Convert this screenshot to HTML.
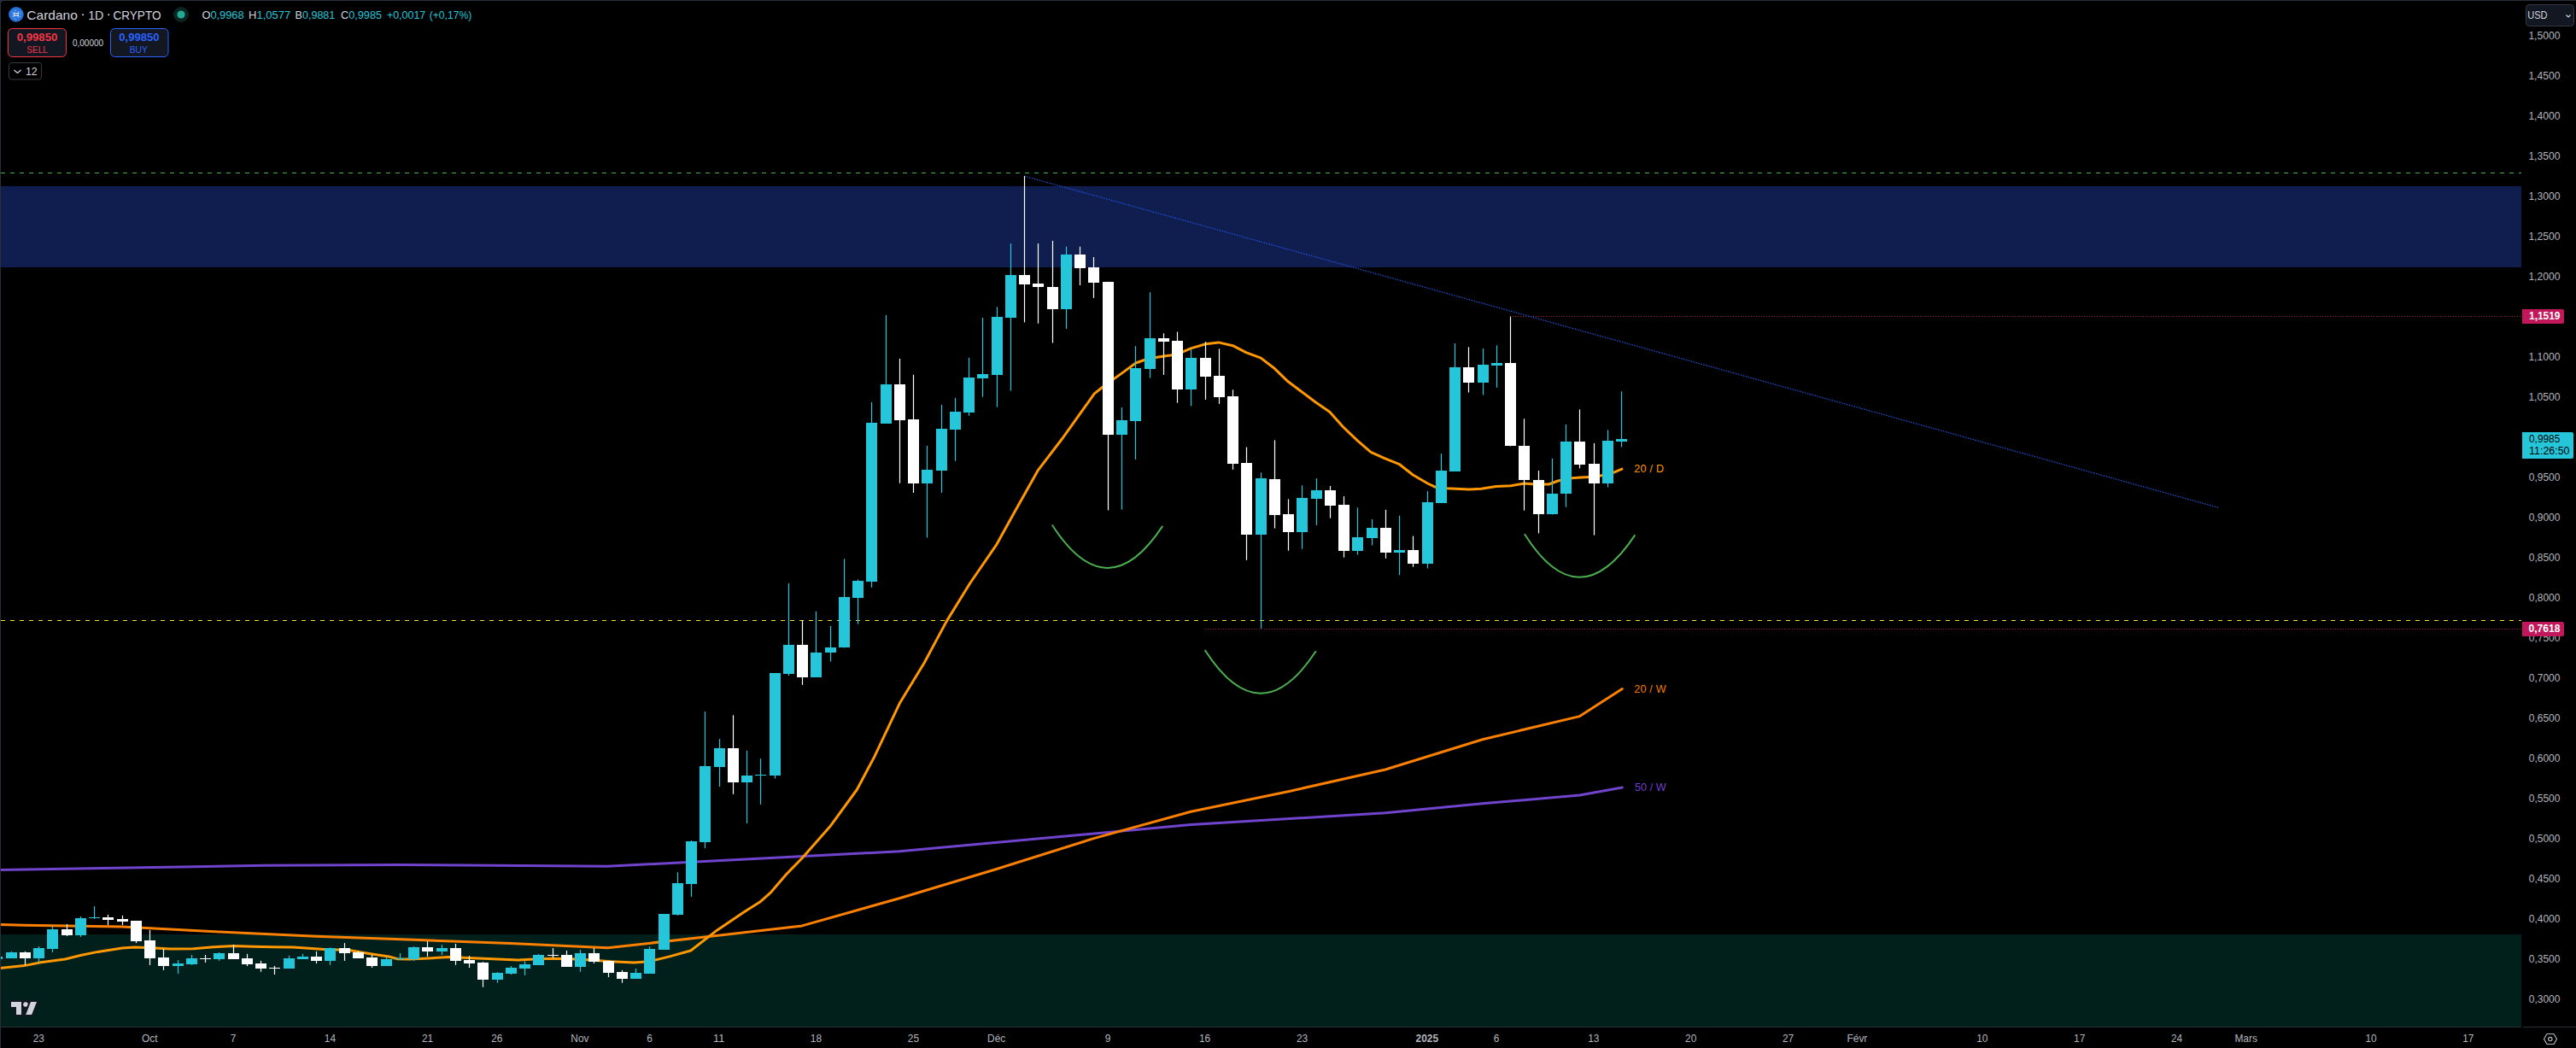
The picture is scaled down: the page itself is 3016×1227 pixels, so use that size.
<!DOCTYPE html>
<html><head><meta charset="utf-8"><title>Cardano 1D</title><style>
html,body{margin:0;padding:0;background:#000;width:3016px;height:1227px;overflow:hidden;}
svg{display:block;font-family:"Liberation Sans",sans-serif;}
</style></head><body>
<svg width="3016" height="1227" viewBox="0 0 3016 1227">
<rect x="0" y="0" width="3016" height="1227" fill="#2a2e39"/>
<rect x="1" y="1" width="3015" height="1226" rx="4" fill="#000"/>
<rect x="1" y="6" width="3015" height="1221" fill="#000"/>
<rect x="6" y="1" width="3010" height="1226" fill="#000"/>
<rect x="1" y="218" width="2951" height="95" fill="#0f1e4f"/>
<rect x="1" y="1094" width="2951" height="108" fill="#02201b"/>
<rect x="0" y="1202" width="2952" height="1" fill="#2a2e39"/>
<rect x="2954" y="1202" width="62" height="1" fill="#2a2e39"/>
<line x1="1" y1="202.5" x2="2952" y2="202.5" stroke="#4caf50" stroke-width="1" stroke-dasharray="5 6"/>
<line x1="1" y1="726.5" x2="2952" y2="726.5" stroke="#f5e12d" stroke-width="1" stroke-dasharray="5 6"/>
<line x1="1768" y1="370.5" x2="2952" y2="370.5" stroke="#ad1457" stroke-width="1" stroke-dasharray="1 2"/>
<line x1="1411" y1="736.5" x2="2952" y2="736.5" stroke="#ad1457" stroke-width="1" stroke-dasharray="1 2"/>
<line x1="1199.4" y1="206.2" x2="2597" y2="594.2" stroke="#2356e6" stroke-width="1.2" stroke-dasharray="1.5 1.5"/>
<polyline points="0.0,1018.6 310.6,1013.3 465.8,1012.4 711.6,1014.2 1053.0,996.8 1394.4,965.5 1622.0,951.7 1735.8,940.7 1849.6,931.1 1899.3,922.0" fill="none" stroke="#7044cc" stroke-width="3" stroke-linejoin="round" stroke-linecap="round"/>
<polyline points="0.0,1082.6 28.8,1083.2 142.6,1085.0 256.4,1091.1 370.2,1096.3 484.0,1100.3 597.8,1104.6 711.6,1109.8 825.4,1097.0 939.2,1083.9 1053.0,1051.7 1166.8,1017.5 1280.6,981.6 1394.4,950.3 1508.2,926.7 1622.0,901.0 1735.8,865.7 1849.6,838.6 1899.3,806.5" fill="none" stroke="#fb8000" stroke-width="3" stroke-linejoin="round" stroke-linecap="round"/>
<polyline points="0.0,1133.5 28.6,1130.6 47.7,1126.8 76.3,1123.0 95.4,1118.2 114.5,1114.4 143.1,1110.1 157.4,1109.1 171.8,1109.4 200.0,1111.0 226.6,1110.7 249.9,1108.7 273.2,1107.6 296.5,1108.3 319.8,1108.7 343.0,1109.1 380.0,1111.4 408.8,1112.6 432.1,1116.5 455.4,1120.0 465.5,1122.7 478.7,1123.1 502.0,1121.9 525.3,1120.4 548.6,1121.5 583.3,1123.1 606.6,1123.9 629.9,1122.7 645.4,1122.3 668.7,1122.7 692.0,1123.9 715.3,1125.8 742.5,1127.0 760.0,1125.8 783.9,1119.9 808.7,1113.0 839.8,1088.9 870.8,1067.9 889.4,1056.3 901.9,1045.4 920.5,1023.7 939.1,1004.7 971.7,967.8 1003.3,924.5 1023.9,885.7 1053.1,823.8 1082.3,775.7 1108.1,727.6 1135.6,683.0 1167.1,637.1 1187.0,601.1 1215.5,550.3 1244.1,513.0 1281.3,460.9 1293.7,451.0 1313.6,436.9 1329.8,425.0 1339.7,421.5 1354.6,418.3 1372.0,415.8 1385.6,411.6 1394.3,407.9 1411.7,402.7 1426.6,400.9 1443.4,404.7 1458.8,412.6 1476.2,419.1 1491.4,430.7 1508.1,446.8 1524.1,458.8 1540.1,470.8 1556.8,482.2 1572.2,499.5 1589.6,516.2 1605.0,529.3 1621.1,536.7 1638.6,543.7 1654.3,556.0 1671.5,566.0 1680.7,570.3 1694.4,571.7 1720.1,573.1 1734.4,572.3 1751.6,569.4 1768.8,568.8 1784.5,566.0 1797.4,567.0 1813.4,567.0 1824.1,563.0 1840.1,559.8 1850.8,559.0 1866.8,558.2 1877.5,556.3 1888.2,553.6 1898.9,549.1" fill="none" stroke="#ff9800" stroke-width="3" stroke-linejoin="round" stroke-linecap="round"/>
<rect x="-4.1" y="1120.0" width="1.2" height="3.0" fill="#26c6da"/>
<rect x="-10" y="1120" width="13" height="3" fill="#26c6da"/>
<rect x="12.9" y="1113.9" width="1.2" height="8.1" fill="#26c6da"/>
<rect x="7" y="1115" width="13" height="7" fill="#26c6da"/>
<rect x="28.9" y="1113.9" width="1.2" height="16.2" fill="#ffffff"/>
<rect x="23" y="1115" width="13" height="7" fill="#ffffff"/>
<rect x="44.9" y="1108.0" width="1.2" height="19.1" fill="#26c6da"/>
<rect x="39" y="1110" width="13" height="12" fill="#26c6da"/>
<rect x="60.9" y="1084.0" width="1.2" height="31.0" fill="#26c6da"/>
<rect x="55" y="1088" width="13" height="23" fill="#26c6da"/>
<rect x="77.9" y="1082.0" width="1.2" height="14.0" fill="#ffffff"/>
<rect x="72" y="1088" width="13" height="7" fill="#ffffff"/>
<rect x="93.9" y="1072.9" width="1.2" height="24.0" fill="#26c6da"/>
<rect x="88" y="1075" width="13" height="20" fill="#26c6da"/>
<rect x="109.9" y="1060.9" width="1.2" height="15.0" fill="#26c6da"/>
<rect x="104" y="1074" width="13" height="1" fill="#26c6da"/>
<rect x="125.9" y="1070.9" width="1.2" height="12.2" fill="#ffffff"/>
<rect x="120" y="1074" width="13" height="3" fill="#ffffff"/>
<rect x="142.9" y="1071.9" width="1.2" height="11.2" fill="#ffffff"/>
<rect x="137" y="1076" width="13" height="3" fill="#ffffff"/>
<rect x="158.9" y="1078.0" width="1.2" height="26.1" fill="#ffffff"/>
<rect x="153" y="1078" width="13" height="24" fill="#ffffff"/>
<rect x="174.9" y="1088.9" width="1.2" height="41.1" fill="#ffffff"/>
<rect x="169" y="1101" width="13" height="21" fill="#ffffff"/>
<rect x="190.9" y="1111.0" width="1.2" height="24.9" fill="#ffffff"/>
<rect x="185" y="1121" width="13" height="10" fill="#ffffff"/>
<rect x="207.9" y="1124.1" width="1.2" height="15.9" fill="#26c6da"/>
<rect x="202" y="1128" width="13" height="3" fill="#26c6da"/>
<rect x="223.9" y="1118.0" width="1.2" height="11.8" fill="#26c6da"/>
<rect x="218" y="1122" width="13" height="7" fill="#26c6da"/>
<rect x="239.9" y="1118.0" width="1.2" height="9.0" fill="#ffffff"/>
<rect x="234" y="1122" width="13" height="1" fill="#ffffff"/>
<rect x="255.9" y="1115.0" width="1.2" height="9.9" fill="#26c6da"/>
<rect x="250" y="1116" width="13" height="7" fill="#26c6da"/>
<rect x="272.9" y="1106.0" width="1.2" height="16.9" fill="#ffffff"/>
<rect x="267" y="1116" width="13" height="7" fill="#ffffff"/>
<rect x="288.9" y="1116.9" width="1.2" height="14.2" fill="#ffffff"/>
<rect x="283" y="1122" width="13" height="7" fill="#ffffff"/>
<rect x="304.9" y="1124.9" width="1.2" height="12.9" fill="#ffffff"/>
<rect x="299" y="1128" width="13" height="6" fill="#ffffff"/>
<rect x="320.9" y="1130.9" width="1.2" height="10.1" fill="#ffffff"/>
<rect x="315" y="1133" width="13" height="1" fill="#ffffff"/>
<rect x="337.9" y="1118.8" width="1.2" height="15.0" fill="#26c6da"/>
<rect x="332" y="1122" width="13" height="12" fill="#26c6da"/>
<rect x="353.9" y="1116.9" width="1.2" height="6.0" fill="#26c6da"/>
<rect x="348" y="1120" width="13" height="3" fill="#26c6da"/>
<rect x="369.9" y="1113.9" width="1.2" height="14.2" fill="#ffffff"/>
<rect x="364" y="1120" width="13" height="5" fill="#ffffff"/>
<rect x="385.9" y="1109.3" width="1.2" height="20.5" fill="#26c6da"/>
<rect x="380" y="1110" width="13" height="15" fill="#26c6da"/>
<rect x="402.9" y="1104.1" width="1.2" height="20.8" fill="#ffffff"/>
<rect x="397" y="1110" width="13" height="6" fill="#ffffff"/>
<rect x="418.9" y="1113.2" width="1.2" height="8.7" fill="#ffffff"/>
<rect x="413" y="1115" width="13" height="7" fill="#ffffff"/>
<rect x="434.9" y="1118.0" width="1.2" height="15.0" fill="#ffffff"/>
<rect x="429" y="1121" width="13" height="10" fill="#ffffff"/>
<rect x="451.9" y="1120.2" width="1.2" height="10.7" fill="#26c6da"/>
<rect x="446" y="1123" width="13" height="8" fill="#26c6da"/>
<rect x="467.9" y="1116.1" width="1.2" height="7.8" fill="#26c6da"/>
<rect x="462" y="1122" width="13" height="1" fill="#26c6da"/>
<rect x="483.9" y="1108.1" width="1.2" height="16.8" fill="#26c6da"/>
<rect x="478" y="1109" width="13" height="14" fill="#26c6da"/>
<rect x="499.9" y="1102.1" width="1.2" height="17.9" fill="#ffffff"/>
<rect x="494" y="1109" width="13" height="5" fill="#ffffff"/>
<rect x="516.9" y="1106.2" width="1.2" height="11.8" fill="#26c6da"/>
<rect x="511" y="1110" width="13" height="4" fill="#26c6da"/>
<rect x="532.9" y="1105.0" width="1.2" height="24.8" fill="#ffffff"/>
<rect x="527" y="1110" width="13" height="15" fill="#ffffff"/>
<rect x="548.9" y="1119.2" width="1.2" height="13.8" fill="#ffffff"/>
<rect x="543" y="1124" width="13" height="4" fill="#ffffff"/>
<rect x="564.9" y="1126.2" width="1.2" height="29.5" fill="#ffffff"/>
<rect x="559" y="1127" width="13" height="20" fill="#ffffff"/>
<rect x="581.9" y="1138.1" width="1.2" height="12.7" fill="#26c6da"/>
<rect x="576" y="1139" width="13" height="8" fill="#26c6da"/>
<rect x="597.9" y="1131.1" width="1.2" height="9.9" fill="#26c6da"/>
<rect x="592" y="1133" width="13" height="7" fill="#26c6da"/>
<rect x="613.9" y="1125.2" width="1.2" height="16.7" fill="#26c6da"/>
<rect x="608" y="1129" width="13" height="5" fill="#26c6da"/>
<rect x="629.9" y="1117.1" width="1.2" height="12.6" fill="#26c6da"/>
<rect x="624" y="1118" width="13" height="12" fill="#26c6da"/>
<rect x="646.9" y="1110.1" width="1.2" height="11.8" fill="#ffffff"/>
<rect x="641" y="1118" width="13" height="1" fill="#ffffff"/>
<rect x="662.9" y="1113.0" width="1.2" height="18.9" fill="#ffffff"/>
<rect x="657" y="1118" width="13" height="14" fill="#ffffff"/>
<rect x="678.9" y="1112.0" width="1.2" height="25.8" fill="#26c6da"/>
<rect x="673" y="1116" width="13" height="16" fill="#26c6da"/>
<rect x="694.9" y="1110.1" width="1.2" height="17.9" fill="#ffffff"/>
<rect x="689" y="1116" width="13" height="10" fill="#ffffff"/>
<rect x="711.9" y="1125.0" width="1.2" height="19.1" fill="#ffffff"/>
<rect x="706" y="1125" width="13" height="14" fill="#ffffff"/>
<rect x="727.9" y="1135.9" width="1.2" height="14.9" fill="#ffffff"/>
<rect x="722" y="1138" width="13" height="8" fill="#ffffff"/>
<rect x="743.9" y="1134.0" width="1.2" height="12.0" fill="#26c6da"/>
<rect x="738" y="1139" width="13" height="7" fill="#26c6da"/>
<rect x="759.9" y="1108.1" width="1.2" height="31.8" fill="#26c6da"/>
<rect x="754" y="1111" width="13" height="29" fill="#26c6da"/>
<rect x="776.9" y="1070.2" width="1.2" height="41.5" fill="#26c6da"/>
<rect x="771" y="1070" width="13" height="42" fill="#26c6da"/>
<rect x="792.9" y="1021.2" width="1.2" height="50.6" fill="#26c6da"/>
<rect x="787" y="1034" width="13" height="37" fill="#26c6da"/>
<rect x="808.9" y="984.0" width="1.2" height="65.9" fill="#26c6da"/>
<rect x="803" y="985" width="13" height="50" fill="#26c6da"/>
<rect x="824.9" y="833.1" width="1.2" height="160.0" fill="#26c6da"/>
<rect x="819" y="897" width="13" height="89" fill="#26c6da"/>
<rect x="841.9" y="865.1" width="1.2" height="55.9" fill="#26c6da"/>
<rect x="836" y="876" width="13" height="22" fill="#26c6da"/>
<rect x="857.9" y="837.3" width="1.2" height="92.5" fill="#ffffff"/>
<rect x="852" y="876" width="13" height="40" fill="#ffffff"/>
<rect x="873.9" y="878.8" width="1.2" height="85.2" fill="#26c6da"/>
<rect x="868" y="908" width="13" height="8" fill="#26c6da"/>
<rect x="889.9" y="888.2" width="1.2" height="53.6" fill="#26c6da"/>
<rect x="884" y="907" width="13" height="1" fill="#26c6da"/>
<rect x="906.9" y="788.2" width="1.2" height="123.3" fill="#26c6da"/>
<rect x="901" y="788" width="13" height="120" fill="#26c6da"/>
<rect x="922.9" y="683.0" width="1.2" height="108.0" fill="#26c6da"/>
<rect x="917" y="755" width="13" height="34" fill="#26c6da"/>
<rect x="938.9" y="726.4" width="1.2" height="75.5" fill="#ffffff"/>
<rect x="933" y="755" width="13" height="38" fill="#ffffff"/>
<rect x="954.9" y="715.8" width="1.2" height="77.0" fill="#26c6da"/>
<rect x="949" y="764" width="13" height="29" fill="#26c6da"/>
<rect x="971.9" y="733.0" width="1.2" height="41.6" fill="#26c6da"/>
<rect x="966" y="758" width="13" height="6" fill="#26c6da"/>
<rect x="987.9" y="654.3" width="1.2" height="104.2" fill="#26c6da"/>
<rect x="982" y="699" width="13" height="59" fill="#26c6da"/>
<rect x="1003.9" y="678.4" width="1.2" height="52.3" fill="#26c6da"/>
<rect x="998" y="680" width="13" height="20" fill="#26c6da"/>
<rect x="1019.9" y="471.0" width="1.2" height="216.8" fill="#26c6da"/>
<rect x="1014" y="495" width="13" height="186" fill="#26c6da"/>
<rect x="1036.9" y="369.0" width="1.2" height="126.8" fill="#26c6da"/>
<rect x="1031" y="450" width="13" height="46" fill="#26c6da"/>
<rect x="1052.9" y="419.9" width="1.2" height="145.9" fill="#ffffff"/>
<rect x="1047" y="450" width="13" height="42" fill="#ffffff"/>
<rect x="1068.9" y="438.8" width="1.2" height="138.2" fill="#ffffff"/>
<rect x="1063" y="491" width="13" height="75" fill="#ffffff"/>
<rect x="1084.9" y="521.9" width="1.2" height="107.6" fill="#26c6da"/>
<rect x="1079" y="550" width="13" height="16" fill="#26c6da"/>
<rect x="1101.9" y="474.0" width="1.2" height="103.0" fill="#26c6da"/>
<rect x="1096" y="502" width="13" height="49" fill="#26c6da"/>
<rect x="1117.9" y="466.0" width="1.2" height="73.7" fill="#26c6da"/>
<rect x="1112" y="482" width="13" height="21" fill="#26c6da"/>
<rect x="1133.9" y="418.9" width="1.2" height="67.8" fill="#26c6da"/>
<rect x="1128" y="442" width="13" height="41" fill="#26c6da"/>
<rect x="1149.9" y="372.0" width="1.2" height="92.7" fill="#26c6da"/>
<rect x="1144" y="438" width="13" height="5" fill="#26c6da"/>
<rect x="1166.9" y="359.3" width="1.2" height="117.3" fill="#26c6da"/>
<rect x="1161" y="371" width="13" height="68" fill="#26c6da"/>
<rect x="1182.9" y="285.1" width="1.2" height="172.5" fill="#26c6da"/>
<rect x="1177" y="322" width="13" height="50" fill="#26c6da"/>
<rect x="1198.9" y="206.2" width="1.2" height="171.2" fill="#ffffff"/>
<rect x="1193" y="322" width="13" height="11" fill="#ffffff"/>
<rect x="1214.9" y="285.1" width="1.2" height="93.6" fill="#ffffff"/>
<rect x="1209" y="332" width="13" height="4" fill="#ffffff"/>
<rect x="1231.9" y="281.9" width="1.2" height="119.6" fill="#ffffff"/>
<rect x="1226" y="336" width="13" height="26" fill="#ffffff"/>
<rect x="1247.9" y="288.8" width="1.2" height="96.1" fill="#26c6da"/>
<rect x="1242" y="298" width="13" height="64" fill="#26c6da"/>
<rect x="1263.9" y="288.8" width="1.2" height="45.2" fill="#ffffff"/>
<rect x="1258" y="298" width="13" height="16" fill="#ffffff"/>
<rect x="1279.9" y="301.0" width="1.2" height="47.9" fill="#ffffff"/>
<rect x="1274" y="313" width="13" height="18" fill="#ffffff"/>
<rect x="1296.9" y="329.8" width="1.2" height="267.6" fill="#ffffff"/>
<rect x="1291" y="330" width="13" height="179" fill="#ffffff"/>
<rect x="1312.9" y="477.1" width="1.2" height="119.6" fill="#26c6da"/>
<rect x="1307" y="492" width="13" height="17" fill="#26c6da"/>
<rect x="1328.9" y="405.2" width="1.2" height="132.7" fill="#26c6da"/>
<rect x="1323" y="431" width="13" height="62" fill="#26c6da"/>
<rect x="1345.9" y="342.2" width="1.2" height="100.4" fill="#26c6da"/>
<rect x="1340" y="396" width="13" height="36" fill="#26c6da"/>
<rect x="1361.9" y="390.3" width="1.2" height="48.6" fill="#ffffff"/>
<rect x="1356" y="396" width="13" height="4" fill="#ffffff"/>
<rect x="1377.9" y="388.5" width="1.2" height="83.2" fill="#ffffff"/>
<rect x="1372" y="399" width="13" height="57" fill="#ffffff"/>
<rect x="1393.9" y="408.4" width="1.2" height="67.0" fill="#26c6da"/>
<rect x="1388" y="419" width="13" height="37" fill="#26c6da"/>
<rect x="1410.9" y="400.2" width="1.2" height="67.7" fill="#ffffff"/>
<rect x="1405" y="419" width="13" height="22" fill="#ffffff"/>
<rect x="1426.9" y="408.4" width="1.2" height="64.5" fill="#ffffff"/>
<rect x="1421" y="440" width="13" height="25" fill="#ffffff"/>
<rect x="1442.9" y="456.3" width="1.2" height="93.5" fill="#ffffff"/>
<rect x="1437" y="464" width="13" height="79" fill="#ffffff"/>
<rect x="1458.9" y="523.6" width="1.2" height="132.2" fill="#ffffff"/>
<rect x="1453" y="542" width="13" height="84" fill="#ffffff"/>
<rect x="1475.9" y="553.3" width="1.2" height="182.4" fill="#26c6da"/>
<rect x="1470" y="560" width="13" height="66" fill="#26c6da"/>
<rect x="1491.9" y="515.4" width="1.2" height="103.2" fill="#ffffff"/>
<rect x="1486" y="561" width="13" height="42" fill="#ffffff"/>
<rect x="1507.9" y="584.4" width="1.2" height="60.3" fill="#ffffff"/>
<rect x="1502" y="602" width="13" height="21" fill="#ffffff"/>
<rect x="1523.9" y="568.2" width="1.2" height="74.5" fill="#26c6da"/>
<rect x="1518" y="583" width="13" height="40" fill="#26c6da"/>
<rect x="1540.9" y="560.0" width="1.2" height="54.9" fill="#26c6da"/>
<rect x="1535" y="574" width="13" height="10" fill="#26c6da"/>
<rect x="1556.9" y="569.0" width="1.2" height="37.7" fill="#ffffff"/>
<rect x="1551" y="574" width="13" height="18" fill="#ffffff"/>
<rect x="1572.9" y="581.1" width="1.2" height="71.5" fill="#ffffff"/>
<rect x="1567" y="591" width="13" height="54" fill="#ffffff"/>
<rect x="1588.9" y="594.3" width="1.2" height="55.3" fill="#26c6da"/>
<rect x="1583" y="629" width="13" height="16" fill="#26c6da"/>
<rect x="1605.9" y="607.9" width="1.2" height="30.6" fill="#26c6da"/>
<rect x="1600" y="618" width="13" height="12" fill="#26c6da"/>
<rect x="1621.9" y="596.8" width="1.2" height="57.0" fill="#ffffff"/>
<rect x="1616" y="618" width="13" height="29" fill="#ffffff"/>
<rect x="1637.9" y="603.7" width="1.2" height="69.6" fill="#26c6da"/>
<rect x="1632" y="644" width="13" height="3" fill="#26c6da"/>
<rect x="1653.9" y="627.5" width="1.2" height="36.3" fill="#ffffff"/>
<rect x="1648" y="644" width="13" height="16" fill="#ffffff"/>
<rect x="1670.9" y="575.1" width="1.2" height="90.4" fill="#26c6da"/>
<rect x="1665" y="588" width="13" height="72" fill="#26c6da"/>
<rect x="1686.9" y="531.1" width="1.2" height="57.8" fill="#26c6da"/>
<rect x="1681" y="551" width="13" height="38" fill="#26c6da"/>
<rect x="1702.9" y="402.0" width="1.2" height="149.7" fill="#26c6da"/>
<rect x="1697" y="430" width="13" height="122" fill="#26c6da"/>
<rect x="1718.9" y="406.3" width="1.2" height="53.2" fill="#ffffff"/>
<rect x="1713" y="430" width="13" height="18" fill="#ffffff"/>
<rect x="1735.9" y="408.0" width="1.2" height="54.4" fill="#26c6da"/>
<rect x="1730" y="427" width="13" height="21" fill="#26c6da"/>
<rect x="1751.9" y="404.3" width="1.2" height="49.5" fill="#26c6da"/>
<rect x="1746" y="425" width="13" height="3" fill="#26c6da"/>
<rect x="1767.9" y="370.7" width="1.2" height="151.7" fill="#ffffff"/>
<rect x="1762" y="425" width="13" height="97" fill="#ffffff"/>
<rect x="1783.9" y="490.3" width="1.2" height="107.4" fill="#ffffff"/>
<rect x="1778" y="522" width="13" height="40" fill="#ffffff"/>
<rect x="1800.9" y="551.0" width="1.2" height="73.4" fill="#ffffff"/>
<rect x="1795" y="562" width="13" height="40" fill="#ffffff"/>
<rect x="1816.9" y="536.8" width="1.2" height="65.7" fill="#26c6da"/>
<rect x="1811" y="578" width="13" height="24" fill="#26c6da"/>
<rect x="1832.9" y="497.0" width="1.2" height="96.7" fill="#26c6da"/>
<rect x="1827" y="517" width="13" height="61" fill="#26c6da"/>
<rect x="1848.9" y="479.4" width="1.2" height="68.9" fill="#ffffff"/>
<rect x="1843" y="517" width="13" height="27" fill="#ffffff"/>
<rect x="1865.9" y="518.9" width="1.2" height="107.7" fill="#ffffff"/>
<rect x="1860" y="543" width="13" height="23" fill="#ffffff"/>
<rect x="1881.9" y="503.4" width="1.2" height="67.1" fill="#26c6da"/>
<rect x="1876" y="516" width="13" height="50" fill="#26c6da"/>
<rect x="1897.9" y="458.3" width="1.2" height="65.2" fill="#26c6da"/>
<rect x="1892" y="514" width="13" height="3" fill="#26c6da"/>
<path d="M1231.8,614.5 Q1296.1,714.6 1361.2,615.9" fill="none" stroke="#4caf50" stroke-width="2"/>
<path d="M1410.7,761.1 Q1475.4,861.8 1540.8,762.2" fill="none" stroke="#4caf50" stroke-width="2"/>
<path d="M1784.9,625.3 Q1848.4,725.8 1914.3,626.4" fill="none" stroke="#4caf50" stroke-width="2"/>
<rect x="0" y="0" width="1" height="1227" fill="#2a2e39"/>
<text x="1913.35" y="552.9" font-size="12.6" fill="#ff9800" textLength="34.68" lengthAdjust="spacing">20 / D</text>
<text x="1913.35" y="811" font-size="12.6" fill="#f57c00" textLength="37.19" lengthAdjust="spacing">20 / W</text>
<text x="1914.09" y="926" font-size="12.6" fill="#6f3fcf" textLength="36.45" lengthAdjust="spacing">50 / W</text>
<rect x="2952" y="1" width="64" height="1201" fill="#000"/>
<text x="2960.38" y="46" font-size="12.6" fill="#b2b5be" textLength="36.99" lengthAdjust="spacingAndGlyphs">1,5000</text>
<text x="2960.38" y="93" font-size="12.6" fill="#b2b5be" textLength="36.99" lengthAdjust="spacingAndGlyphs">1,4500</text>
<text x="2960.38" y="140" font-size="12.6" fill="#b2b5be" textLength="36.99" lengthAdjust="spacingAndGlyphs">1,4000</text>
<text x="2960.38" y="187" font-size="12.6" fill="#b2b5be" textLength="36.99" lengthAdjust="spacingAndGlyphs">1,3500</text>
<text x="2960.38" y="234" font-size="12.6" fill="#b2b5be" textLength="36.99" lengthAdjust="spacingAndGlyphs">1,3000</text>
<text x="2960.38" y="281" font-size="12.6" fill="#b2b5be" textLength="36.99" lengthAdjust="spacingAndGlyphs">1,2500</text>
<text x="2960.38" y="328" font-size="12.6" fill="#b2b5be" textLength="36.99" lengthAdjust="spacingAndGlyphs">1,2000</text>
<text x="2960.38" y="375" font-size="12.6" fill="#b2b5be" textLength="36.99" lengthAdjust="spacingAndGlyphs">1,1500</text>
<text x="2960.38" y="422" font-size="12.6" fill="#b2b5be" textLength="36.99" lengthAdjust="spacingAndGlyphs">1,1000</text>
<text x="2960.38" y="469" font-size="12.6" fill="#b2b5be" textLength="36.99" lengthAdjust="spacingAndGlyphs">1,0500</text>
<text x="2960.38" y="516" font-size="12.6" fill="#b2b5be" textLength="36.99" lengthAdjust="spacingAndGlyphs">1,0000</text>
<text x="2960.83" y="563" font-size="12.6" fill="#b2b5be" textLength="36.53" lengthAdjust="spacingAndGlyphs">0,9500</text>
<text x="2960.83" y="610" font-size="12.6" fill="#b2b5be" textLength="36.53" lengthAdjust="spacingAndGlyphs">0,9000</text>
<text x="2960.83" y="657" font-size="12.6" fill="#b2b5be" textLength="36.53" lengthAdjust="spacingAndGlyphs">0,8500</text>
<text x="2960.83" y="704" font-size="12.6" fill="#b2b5be" textLength="36.53" lengthAdjust="spacingAndGlyphs">0,8000</text>
<text x="2960.83" y="751" font-size="12.6" fill="#b2b5be" textLength="36.53" lengthAdjust="spacingAndGlyphs">0,7500</text>
<text x="2960.83" y="798" font-size="12.6" fill="#b2b5be" textLength="36.53" lengthAdjust="spacingAndGlyphs">0,7000</text>
<text x="2960.83" y="845" font-size="12.6" fill="#b2b5be" textLength="36.53" lengthAdjust="spacingAndGlyphs">0,6500</text>
<text x="2960.83" y="892" font-size="12.6" fill="#b2b5be" textLength="36.53" lengthAdjust="spacingAndGlyphs">0,6000</text>
<text x="2960.83" y="939" font-size="12.6" fill="#b2b5be" textLength="36.53" lengthAdjust="spacingAndGlyphs">0,5500</text>
<text x="2960.83" y="986" font-size="12.6" fill="#b2b5be" textLength="36.53" lengthAdjust="spacingAndGlyphs">0,5000</text>
<text x="2960.83" y="1033" font-size="12.6" fill="#b2b5be" textLength="36.53" lengthAdjust="spacingAndGlyphs">0,4500</text>
<text x="2960.83" y="1080" font-size="12.6" fill="#b2b5be" textLength="36.53" lengthAdjust="spacingAndGlyphs">0,4000</text>
<text x="2960.83" y="1127" font-size="12.6" fill="#b2b5be" textLength="36.53" lengthAdjust="spacingAndGlyphs">0,3500</text>
<text x="2960.83" y="1174" font-size="12.6" fill="#b2b5be" textLength="36.53" lengthAdjust="spacingAndGlyphs">0,3000</text>
<path d="M2953,362 H3000 Q3002,362 3002,364 V377 Q3002,379 3000,379 H2953 Z" fill="#c2185b"/>
<text x="2961.05" y="374" font-size="12.6" fill="#fff" font-weight="bold" textLength="36.39" lengthAdjust="spacingAndGlyphs">1,1519</text>
<path d="M2953,728 H3000 Q3002,728 3002,730 V743 Q3002,745 3000,745 H2953 Z" fill="#c2185b"/>
<text x="2960.62" y="740.1" font-size="12.6" fill="#fff" font-weight="bold" textLength="36.74" lengthAdjust="spacingAndGlyphs">0,7618</text>
<path d="M2953,506 H3011 Q3013,506 3013,508 V535 Q3013,537 3011,537 H2953 Z" fill="#26c6da"/>
<text x="2961.04" y="518" font-size="12.6" fill="#000" textLength="36.26" lengthAdjust="spacingAndGlyphs">0,9985</text>
<text x="2961.07" y="532" font-size="12.6" fill="#000" textLength="47.40" lengthAdjust="spacingAndGlyphs">11:26:50</text>
<rect x="2957.5" y="5.5" width="56" height="25" rx="4" fill="#131722" stroke="#363a45" stroke-width="1"/>
<text x="2959.15" y="22" font-size="12.8" fill="#d1d4dc" textLength="23.38" lengthAdjust="spacingAndGlyphs">USD</text>
<path d="M3004.5,17.5 L3007,20 L3009.5,17.5" fill="none" stroke="#d1d4dc" stroke-width="1.2"/>
<text x="38.74" y="1220" font-size="12.8" fill="#b2b5be" textLength="13.24" lengthAdjust="spacingAndGlyphs">23</text>
<text x="165.94" y="1220" font-size="12.8" fill="#b2b5be" textLength="18.52" lengthAdjust="spacingAndGlyphs">Oct</text>
<text x="269.65" y="1220" font-size="12.8" fill="#b2b5be" textLength="6.62" lengthAdjust="spacingAndGlyphs">7</text>
<text x="379.86" y="1220" font-size="12.8" fill="#b2b5be" textLength="13.24" lengthAdjust="spacingAndGlyphs">14</text>
<text x="493.91" y="1220" font-size="12.8" fill="#b2b5be" textLength="13.24" lengthAdjust="spacingAndGlyphs">21</text>
<text x="575.16" y="1220" font-size="12.8" fill="#b2b5be" textLength="13.24" lengthAdjust="spacingAndGlyphs">26</text>
<text x="668.29" y="1220" font-size="12.8" fill="#b2b5be" textLength="21.17" lengthAdjust="spacingAndGlyphs">Nov</text>
<text x="757.27" y="1220" font-size="12.8" fill="#b2b5be" textLength="6.62" lengthAdjust="spacingAndGlyphs">6</text>
<text x="835.11" y="1220" font-size="12.8" fill="#b2b5be" textLength="13.24" lengthAdjust="spacingAndGlyphs">11</text>
<text x="948.86" y="1220" font-size="12.8" fill="#b2b5be" textLength="13.24" lengthAdjust="spacingAndGlyphs">18</text>
<text x="1062.80" y="1220" font-size="12.8" fill="#b2b5be" textLength="13.24" lengthAdjust="spacingAndGlyphs">25</text>
<text x="1156.08" y="1220" font-size="12.8" fill="#b2b5be" textLength="21.17" lengthAdjust="spacingAndGlyphs">Déc</text>
<text x="1293.73" y="1220" font-size="12.8" fill="#b2b5be" textLength="6.62" lengthAdjust="spacingAndGlyphs">9</text>
<text x="1404.01" y="1220" font-size="12.8" fill="#b2b5be" textLength="13.24" lengthAdjust="spacingAndGlyphs">16</text>
<text x="1517.95" y="1220" font-size="12.8" fill="#b2b5be" textLength="13.24" lengthAdjust="spacingAndGlyphs">23</text>
<text x="1657.62" y="1220" font-size="12.8" fill="#b2b5be" font-weight="bold" textLength="26.48" lengthAdjust="spacingAndGlyphs">2025</text>
<text x="1748.82" y="1220" font-size="12.8" fill="#b2b5be" textLength="6.62" lengthAdjust="spacingAndGlyphs">6</text>
<text x="1859.15" y="1220" font-size="12.8" fill="#b2b5be" textLength="13.24" lengthAdjust="spacingAndGlyphs">13</text>
<text x="1973.06" y="1220" font-size="12.8" fill="#b2b5be" textLength="13.24" lengthAdjust="spacingAndGlyphs">20</text>
<text x="2086.91" y="1220" font-size="12.8" fill="#b2b5be" textLength="13.24" lengthAdjust="spacingAndGlyphs">27</text>
<text x="2162.51" y="1220" font-size="12.8" fill="#b2b5be" textLength="23.81" lengthAdjust="spacingAndGlyphs">Févr</text>
<text x="2314.26" y="1220" font-size="12.8" fill="#b2b5be" textLength="13.24" lengthAdjust="spacingAndGlyphs">10</text>
<text x="2428.11" y="1220" font-size="12.8" fill="#b2b5be" textLength="13.24" lengthAdjust="spacingAndGlyphs">17</text>
<text x="2541.92" y="1220" font-size="12.8" fill="#b2b5be" textLength="13.24" lengthAdjust="spacingAndGlyphs">24</text>
<text x="2616.45" y="1220" font-size="12.8" fill="#b2b5be" textLength="26.45" lengthAdjust="spacingAndGlyphs">Mars</text>
<text x="2769.40" y="1220" font-size="12.8" fill="#b2b5be" textLength="13.24" lengthAdjust="spacingAndGlyphs">10</text>
<text x="2883.25" y="1220" font-size="12.8" fill="#b2b5be" textLength="13.24" lengthAdjust="spacingAndGlyphs">17</text>
<path d="M2982,1210.5 L2990,1210.5 L2993.5,1216.5 L2990,1222.5 L2982,1222.5 L2978.5,1216.5 Z" fill="none" stroke="#b2b5be" stroke-width="1.2" stroke-linejoin="round"/>
<circle cx="2985.8" cy="1216.5" r="2.2" fill="none" stroke="#b2b5be" stroke-width="1.2"/>
<g stroke="#131722" stroke-width="4" paint-order="stroke" fill="#d1d4dc" stroke-linejoin="miter"><path d="M13,1173 H25 V1188 H19 V1179 H13 Z"/><circle cx="30" cy="1176" r="2.8"/><path d="M36,1173 H43 L37.1,1188 H30.2 Z"/></g>
<circle cx="18.9" cy="16.9" r="8.8" fill="#2673dc"/>
<path d="M16.3,15.2 Q18.9,16 21.5,15.2 Q20.9,16.9 21.5,18.6 Q18.9,17.8 16.3,18.6 Q16.9,16.9 16.3,15.2 Z" fill="none" stroke="#d6e2f7" stroke-width="1.2"/>
<g fill="#cfdcf5" opacity="0.55"><circle cx="14.3" cy="14.4" r="0.7"/><circle cx="17" cy="12.7" r="0.7"/><circle cx="21.4" cy="13.5" r="0.7"/><circle cx="23.7" cy="14.4" r="0.7"/><circle cx="14.5" cy="16.9" r="0.7"/><circle cx="24.1" cy="16.5" r="0.7"/><circle cx="14.5" cy="19.4" r="0.7"/><circle cx="23.5" cy="19.4" r="0.7"/><circle cx="16.6" cy="21.1" r="0.7"/><circle cx="21.2" cy="20.5" r="0.7"/><circle cx="18.4" cy="22.5" r="0.7"/><circle cx="18.5" cy="12.3" r="0.7"/></g>
<text x="31.31" y="22.8" font-size="14.8" fill="#d1d4dc" textLength="59.54" lengthAdjust="spacingAndGlyphs">Cardano</text>
<circle cx="97" cy="17.2" r="1.05" fill="#d1d4dc"/>
<text x="103.22" y="22.8" font-size="14.8" fill="#d1d4dc" textLength="18.16" lengthAdjust="spacingAndGlyphs">1D</text>
<circle cx="127.2" cy="17.2" r="1.05" fill="#d1d4dc"/>
<text x="132.52" y="22.8" font-size="14.8" fill="#d1d4dc" textLength="55.92" lengthAdjust="spacingAndGlyphs">CRYPTO</text>
<circle cx="212" cy="17" r="9" fill="#0b2620"/>
<circle cx="212" cy="17" r="4.6" fill="#22ab94"/>
<text x="236.39" y="22" font-size="13" fill="#d1d4dc" textLength="49.27" lengthAdjust="spacingAndGlyphs">O<tspan fill="#26c6da">0,9968</tspan></text>
<text x="291.03" y="22" font-size="13" fill="#d1d4dc" textLength="49.12" lengthAdjust="spacingAndGlyphs">H<tspan fill="#26c6da">1,0577</tspan></text>
<text x="345.57" y="22" font-size="13" fill="#d1d4dc" textLength="46.74" lengthAdjust="spacingAndGlyphs">B<tspan fill="#26c6da">0,9881</tspan></text>
<text x="399.06" y="22" font-size="13" fill="#d1d4dc" textLength="47.98" lengthAdjust="spacingAndGlyphs">C<tspan fill="#26c6da">0,9985</tspan></text>
<text x="452.89" y="22" font-size="13" fill="#26c6da" textLength="45.44" lengthAdjust="spacingAndGlyphs">+0,0017</text>
<text x="502.75" y="22" font-size="13" fill="#26c6da" textLength="49.50" lengthAdjust="spacingAndGlyphs">(+0,17%)</text>
<rect x="9.5" y="33.5" width="68" height="33" rx="5" fill="#131722" stroke="#f23645" stroke-width="1"/>
<text x="19.78" y="48" font-size="13" fill="#f23645" font-weight="bold" textLength="47.56" lengthAdjust="spacingAndGlyphs">0,99850</text>
<text x="31.35" y="62" font-size="11.5" fill="#f23645" textLength="24.49" lengthAdjust="spacingAndGlyphs">SELL</text>
<text x="85.01" y="53.8" font-size="10" fill="#d1d4dc" textLength="36.08" lengthAdjust="spacingAndGlyphs">0,00000</text>
<rect x="129.5" y="33.5" width="67.5" height="33" rx="5" fill="#131722" stroke="#2962ff" stroke-width="1"/>
<text x="139.28" y="48" font-size="13" fill="#2962ff" font-weight="bold" textLength="47.25" lengthAdjust="spacingAndGlyphs">0,99850</text>
<text x="151.76" y="62" font-size="11.5" fill="#2962ff" textLength="21.17" lengthAdjust="spacingAndGlyphs">BUY</text>
<rect x="10.5" y="73.5" width="38" height="19.5" rx="3" fill="#000" stroke="#363a45" stroke-width="1"/>
<path d="M16.5,82 L20.5,85.5 L24.5,82" fill="none" stroke="#d1d4dc" stroke-width="1.3"/>
<text x="29.96" y="88" font-size="12" fill="#d1d4dc" textLength="13.77" lengthAdjust="spacingAndGlyphs">12</text>
</svg></body></html>
